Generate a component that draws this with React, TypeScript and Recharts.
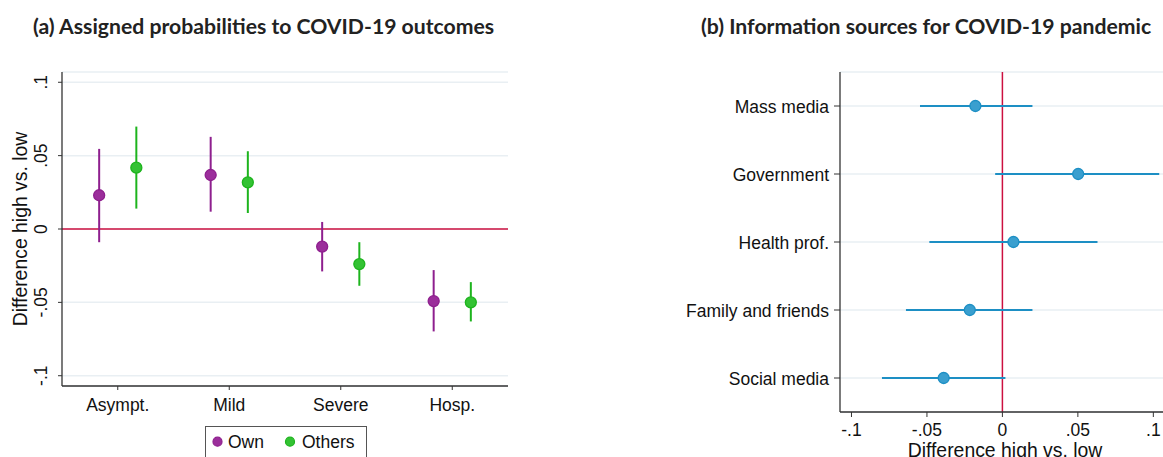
import React from 'react';
import {
  ScatterChart, Scatter, XAxis, YAxis, CartesianGrid, ReferenceLine, ErrorBar,
} from 'recharts';

// ---------- Panel (a) data ----------
const outcomes = ['Asympt.', 'Mild', 'Severe', 'Hosp.'];
const ownEst = [0.023, 0.0368, -0.012, -0.0491];
const ownLo = [-0.009, 0.0118, -0.0289, -0.0698];
const ownHi = [0.0546, 0.0628, 0.0048, -0.028];
const othersEst = [0.0418, 0.0318, -0.0239, -0.05];
const othersLo = [0.0139, 0.0109, -0.0387, -0.063];
const othersHi = [0.0698, 0.053, -0.009, -0.0362];
const yTicksA = [-0.1, -0.05, 0, 0.05, 0.1];

// ---------- Panel (b) data ----------
const sources = ['Mass media', 'Government', 'Health prof.', 'Family and friends', 'Social media'];
const srcEst = [-0.0179, 0.0502, 0.0073, -0.0216, -0.0389];
const srcLo = [-0.0546, -0.0048, -0.0484, -0.0639, -0.0798];
const srcHi = [0.0199, 0.1039, 0.063, 0.0199, 0.002];
const xTicksB = [-0.1, -0.05, 0, 0.05, 0.1];

const DODGE = 1 / 6;

const ownData = outcomes.map((c, i) => ({
  x: i + 1 - DODGE, y: ownEst[i], err: [ownEst[i] - ownLo[i], ownHi[i] - ownEst[i]],
}));
const othersData = outcomes.map((c, i) => ({
  x: i + 1 + DODGE, y: othersEst[i], err: [othersEst[i] - othersLo[i], othersHi[i] - othersEst[i]],
}));
const srcData = sources.map((s, i) => ({
  pos: i + 1, v: srcEst[i], err: [srcEst[i] - srcLo[i], srcHi[i] - srcEst[i]],
}));

const FONT = '"Liberation Sans", Arial, sans-serif';
const AXIS = '#333333';
const GRID = '#e9eff3';
const RED = '#cc1040';
const PURPLE = '#8e1f8e';
const PURPLE_FILL = '#9b2e9b';
const GREEN = '#1db41d';
const GREEN_FILL = '#33c233';
const BLUE = '#1d8fc4';
const BLUE_FILL = '#3a9fcf';

const fmt = (v: number) =>
  v === 0 ? '0' : (v < 0 ? '-' : '') + String(Math.abs(v)).replace(/^0/, '');

const dot = (fill: string, stroke: string) => (p: any) => (
  <circle cx={p.cx} cy={p.cy} r={5.5} fill={fill} stroke={stroke} strokeWidth={1.3} />
);

const LeftYTick = (p: any) => {
  const bx = p.x - 9;
  return (
    <text x={bx} y={p.y} transform={`rotate(-90, ${bx}, ${p.y})`} textAnchor="middle"
      fontFamily={FONT} fontSize={17.5} fill="#111">
      {fmt(p.payload.value)}
    </text>
  );
};

const LeftXTick = (p: any) => {
  const idx = Math.round(p.payload.value) - 1;
  return (
    <text x={p.x} y={p.y + 19} textAnchor="middle" fontFamily={FONT} fontSize={17.5} fill="#111">
      {outcomes[idx]}
    </text>
  );
};

const RightYTick = (p: any) => {
  const idx = Math.round(p.payload.value) - 1;
  return (
    <text x={p.x} y={p.y + 6.5} textAnchor="end" fontFamily={FONT} fontSize={17.5} fill="#111">
      {sources[idx]}
    </text>
  );
};

const RightXTick = (p: any) => (
  <text x={p.x} y={p.y + 19} textAnchor="middle" fontFamily={FONT} fontSize={17.5} fill="#111">
    {fmt(p.payload.value)}
  </text>
);

const LeftYLabel = (p: any) => {
  const vb = p.viewBox || { x: 0, y: 72, width: 62, height: 314 };
  const cy = vb.y + vb.height / 2;
  const bx = 27;
  return (
    <text x={bx} y={cy} transform={`rotate(-90, ${bx}, ${cy})`} textAnchor="middle"
      fontFamily={FONT} fontSize={19.4} fill="#111">
      Difference high vs. low
    </text>
  );
};

const RightXLabel = () => (
  <text x={1005 - 660} y={457} textAnchor="middle" fontFamily={FONT} fontSize={19.4} fill="#111">
    Difference high vs. low
  </text>
);

export default function App() {
  return (
    <div style={{ position: 'absolute', left: 0, top: 0, width: 1163, height: 457, background: '#fff', overflow: 'hidden' }}>
      {/* Panel (a) */}
      <div style={{ position: 'absolute', left: 0, top: 0 }}>
        <ScatterChart width={520} height={420} margin={{ top: 72, right: 12, bottom: 0, left: 0 }}>
          <CartesianGrid horizontal vertical={false} stroke={GRID} strokeWidth={1.5} />
          <XAxis type="number" dataKey="x" domain={[0.5, 4.5]} ticks={[1, 2, 3, 4]} allowDataOverflow
            height={34} axisLine={{ stroke: AXIS, strokeWidth: 1.3 }} tickLine={{ stroke: AXIS, strokeWidth: 1 }}
            tickSize={4} tickMargin={2} tick={<LeftXTick />} interval={0} />
          <YAxis type="number" dataKey="y" domain={[-0.107, 0.107]} ticks={yTicksA} allowDataOverflow
            width={62} axisLine={{ stroke: AXIS, strokeWidth: 1.3 }} tickLine={{ stroke: AXIS, strokeWidth: 1 }}
            tickSize={4} tickMargin={2} tick={<LeftYTick />} interval={0}
            label={<LeftYLabel />} />
          <ReferenceLine y={0} stroke={RED} strokeWidth={1.5} />
          <Scatter name="Own" data={ownData} isAnimationActive={false} shape={dot(PURPLE_FILL, PURPLE)}>
            <ErrorBar dataKey="err" direction="y" width={0} stroke={PURPLE} strokeWidth={2} />
          </Scatter>
          <Scatter name="Others" data={othersData} isAnimationActive={false} shape={dot(GREEN_FILL, GREEN)}>
            <ErrorBar dataKey="err" direction="y" width={0} stroke={GREEN} strokeWidth={2} />
          </Scatter>
        </ScatterChart>
      </div>

      {/* Panel (b) */}
      <div style={{ position: 'absolute', left: 660, top: 0 }}>
        <ScatterChart width={503} height={457} margin={{ top: 72, right: 0, bottom: 0, left: 0 }}>
          <CartesianGrid horizontal vertical={false} stroke={GRID} strokeWidth={1.5} />
          <XAxis type="number" dataKey="v" domain={[-0.1076, 0.1064]} ticks={xTicksB} allowDataOverflow
            height={45} axisLine={{ stroke: AXIS, strokeWidth: 1.3 }} tickLine={{ stroke: AXIS, strokeWidth: 1 }}
            tickSize={5} tickMargin={0} tick={<RightXTick />} interval={0}
            label={<RightXLabel />} />
          <YAxis type="number" dataKey="pos" domain={[0.5, 5.5]} ticks={[1, 2, 3, 4, 5]} reversed allowDataOverflow
            width={180} axisLine={{ stroke: AXIS, strokeWidth: 1.3 }} tickLine={{ stroke: AXIS, strokeWidth: 1 }}
            tickSize={6} tickMargin={5} tick={<RightYTick />} interval={0} />
          <ReferenceLine x={0} stroke={RED} strokeWidth={1.5} />
          <Scatter data={srcData} isAnimationActive={false} shape={dot(BLUE_FILL, BLUE)}>
            <ErrorBar dataKey="err" direction="x" width={0} stroke={BLUE} strokeWidth={2} />
          </Scatter>
        </ScatterChart>
      </div>

      {/* Titles and legend */}
      <svg width={1163} height={457} style={{ position: 'absolute', left: 0, top: 0, pointerEvents: 'none' }}>
        <text x={33} y={34} fontFamily="Lato" fontWeight={700} fontSize={21.2} fill="#222">
          (a) Assigned probabilities to COVID-19 outcomes
        </text>
        <text x={701} y={34} fontFamily="Lato" fontWeight={700} fontSize={21.2} fill="#222">
          (b) Information sources for COVID-19 pandemic
        </text>
        <rect x={205.5} y={426.5} width={161} height={40} fill="#fff" stroke="#555" strokeWidth={1} />
        <circle cx={217.5} cy={441.7} r={4.5} fill={PURPLE_FILL} stroke={PURPLE} strokeWidth={1.2} />
        <text x={228} y={448} fontFamily={FONT} fontSize={17.5} fill="#111">Own</text>
        <circle cx={290} cy={441.7} r={4.5} fill={GREEN_FILL} stroke={GREEN} strokeWidth={1.2} />
        <text x={302} y={448} fontFamily={FONT} fontSize={17.5} fill="#111">Others</text>
      </svg>
    </div>
  );
}
